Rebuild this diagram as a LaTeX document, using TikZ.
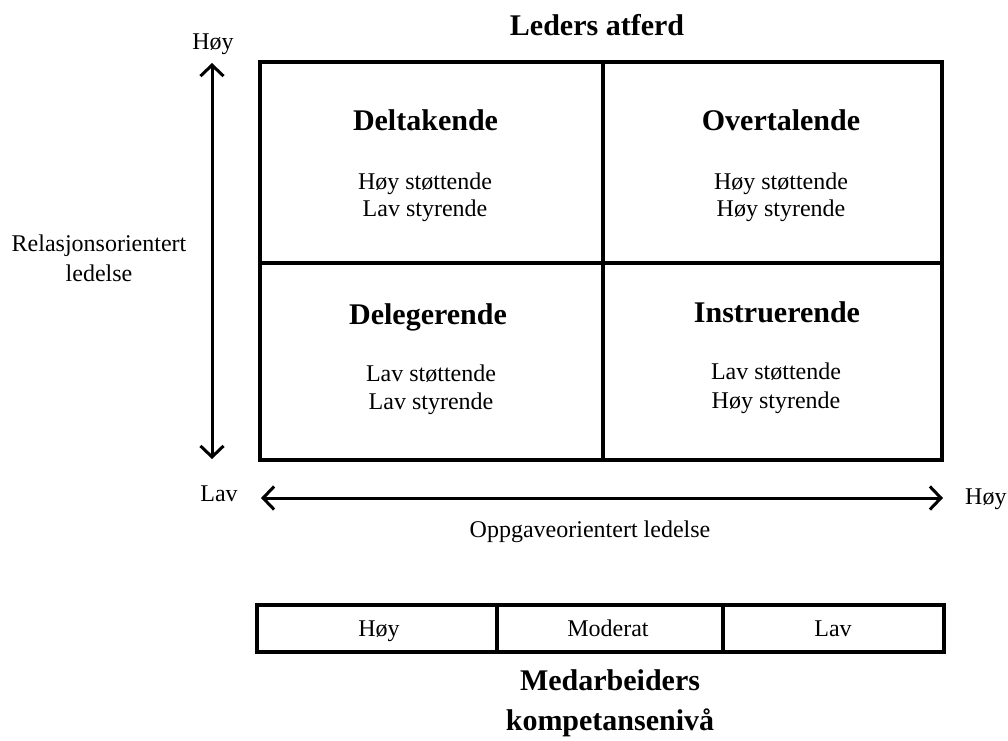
\documentclass[tikz,border=0pt]{standalone}
\usepackage{fontspec}
\setmainfont{Liberation Serif}
\usetikzlibrary{arrows.meta}
\begin{document}
\begin{tikzpicture}[x=1pt,y=-1pt,
  lbl/.style={inner sep=0pt, anchor=base, font=\fontsize{24}{28}\selectfont},
  ttl/.style={inner sep=0pt, anchor=base, font=\fontsize{30}{34}\selectfont\bfseries},
  cell/.style={draw, line width=3.4pt, rectangle, inner sep=0pt},
  axis/.style={line width=3pt, {Straight Barb[length=11pt,width=23pt]}-{Straight Barb[length=11pt,width=23pt]}}
]
\useasboundingbox (0,0) rectangle (1008,740);
% quadrants
\node[cell, minimum width=343pt, minimum height=201pt] (q1) at (431.5,162.5) {};
\node[cell, minimum width=339pt, minimum height=201pt] (q2) at (772.5,162.5) {};
\node[cell, minimum width=343pt, minimum height=197pt] (q3) at (431.5,361.5) {};
\node[cell, minimum width=339pt, minimum height=197pt] (q4) at (772.5,361.5) {};
% quadrant texts
\node[ttl] (t1) at (425.5,130) {Deltakende};
\node[lbl] (s1a) at (425,189) {Høy støttende};
\node[lbl] (s1b) at (425,216) {Lav styrende};
\node[ttl] (t2) at (781,130) {Overtalende};
\node[lbl] (s2a) at (781,189) {Høy støttende};
\node[lbl] (s2b) at (781,216) {Høy styrende};
\node[ttl] (t3) at (428,324) {Delegerende};
\node[lbl] (s3a) at (431,381) {Lav støttende};
\node[lbl] (s3b) at (431,409) {Lav styrende};
\node[ttl] (t4) at (777,322) {Instruerende};
\node[lbl] (s4a) at (776,379) {Lav støttende};
\node[lbl] (s4b) at (776,408) {Høy styrende};
% title
\node[ttl] (title) at (597,35) {Leders atferd};
% vertical axis
\node[lbl] (vhi) at (213,49) {Høy};
\coordinate (vtop) at (212,63);
\coordinate (vbot) at (212,459);
\draw[axis] (vbot) -- (vtop);
\node[lbl] (vlab1) at (99,251) {Relasjonsorientert};
\node[lbl] (vlab2) at (99,281) {ledelse};
% horizontal axis
\node[lbl] (hlo) at (219,501) {Lav};
\node[lbl, anchor=base west] (hhi) at (965,504) {Høy};
\coordinate (hl) at (261,498);
\coordinate (hr) at (943,498);
\draw[axis] (hl) -- (hr);
\node[lbl] (hlab) at (590,537) {Oppgaveorientert ledelse};
% competence scale
\node[cell, minimum width=240pt, minimum height=47pt] (c1) at (377,628.5) {};
\node[cell, minimum width=226pt, minimum height=47pt] (c2) at (610,628.5) {};
\node[cell, minimum width=221pt, minimum height=47pt] (c3) at (833.5,628.5) {};
\node[lbl] (l1) at (379,636) {Høy};
\node[lbl] (l2) at (608,636) {Moderat};
\node[lbl] (l3) at (833,636) {Lav};
\node[ttl] (b1) at (610,690) {Medarbeiders};
\node[ttl] (b2) at (610,730) {kompetansenivå};
\end{tikzpicture}
\end{document}
